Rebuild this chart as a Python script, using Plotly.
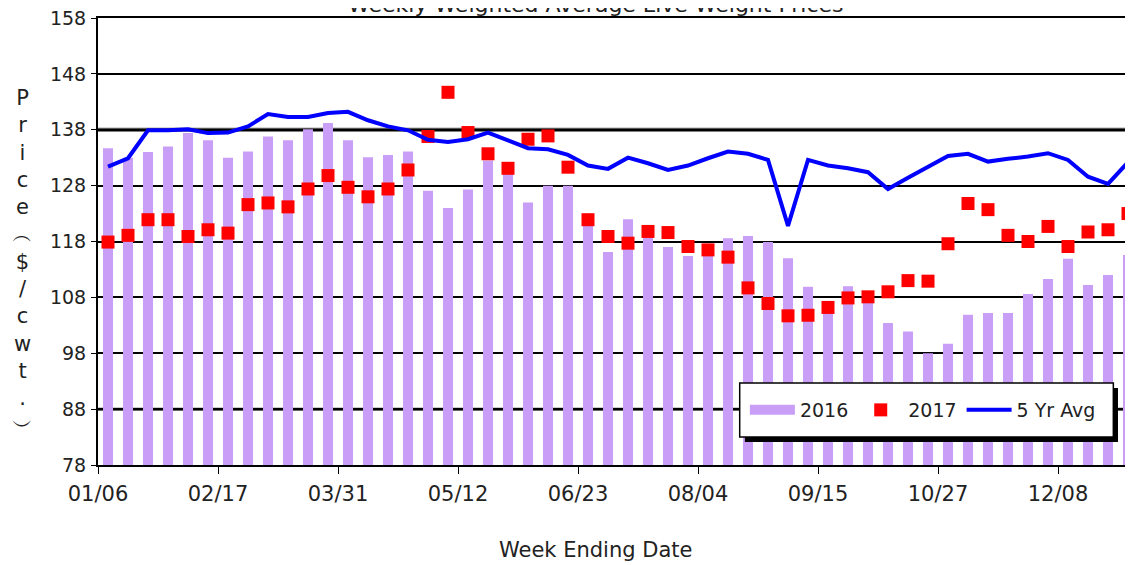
import plotly.graph_objects as go
import pandas as pd

# semanas (fecha de fin de semana) y precios
week_start = "2017-01-06"
n_weeks = 52
tick_labels = ["01/06", "02/17", "03/31", "05/12", "06/23", "08/04", "09/15", "10/27", "12/08"]

prices_2016 = [134.7, 133.0, 134.0, 135.0, 137.4, 136.1, 133.0, 134.1, 136.8, 136.1,
               138.1, 139.2, 136.1, 133.1, 133.5, 134.1, 127.1, 124.0, 127.3, 132.5,
               130.5, 125.0, 128.0, 128.0, 121.0, 116.1, 122.0, 120.0, 117.0, 115.4,
               116.5, 118.6, 119.0, 117.9, 115.0, 109.9, 106.0, 110.0, 107.6, 103.4,
               101.9, 98.0, 99.7, 104.9, 105.2, 105.2, 108.6, 111.3, 114.9, 110.2,
               112.0, 115.6]

prices_2017 = [117.9, 119.1, 121.9, 121.9, 118.9, 120.1, 119.5, 124.6, 124.9, 124.2,
               127.4, 129.8, 127.7, 126.0, 127.4, 130.8, 136.8, 144.7, 137.5, 133.7,
               131.1, 136.3, 136.9, 131.3, 121.9, 118.9, 117.7, 119.8, 119.6, 117.1,
               116.5, 115.2, 109.7, 106.9, 104.7, 104.8, 106.2, 107.9, 108.1, 109.0,
               111.0, 110.9, 117.6, 124.8, 123.7, 119.1, 118.0, 120.7, 117.1, 119.7,
               120.1, 123.0]

avg_5yr = [131.4, 132.9, 137.9, 137.9, 138.1, 137.4, 137.5, 138.6, 140.8, 140.3,
           140.3, 141.0, 141.2, 139.7, 138.6, 137.9, 136.2, 135.8, 136.3, 137.5,
           136.1, 134.7, 134.5, 133.5, 131.6, 131.0, 133.0, 132.0, 130.8, 131.6,
           132.9, 134.1, 133.7, 132.6, 120.8, 132.6, 131.6, 131.1, 130.4, 127.4,
           129.4, 131.4, 133.3, 133.7, 132.3, 132.8, 133.2, 133.8, 132.6, 129.6,
           128.3, 132.2]

weeks = pd.date_range(week_start, periods=n_weeks, freq="7D")
tick_dates = pd.date_range(week_start, periods=len(tick_labels), freq="42D")
WEEK_MS = 7 * 24 * 3600 * 1000

font_name = "DejaVu Sans"
lavender = "#C99EF6"
period = dict(xperiod=WEEK_MS, xperiod0=week_start, xperiodalignment="middle")

fig = go.Figure()

fig.add_trace(go.Bar(
    x=weeks, y=prices_2016, name="2016", **period,
    marker=dict(color=lavender, line=dict(width=0)),
    width=0.5 * WEEK_MS, showlegend=False
))
# entrada de leyenda para 2016 (barra ancha)
fig.add_trace(go.Scatter(
    x=[None], y=[None], mode="lines", name="2016",
    line=dict(color=lavender, width=10)
))
fig.add_trace(go.Scatter(
    x=weeks, y=prices_2017, name="2017", mode="markers", **period,
    marker=dict(symbol="square", size=13, color="#FF0000")
))
fig.add_trace(go.Scatter(
    x=weeks, y=avg_5yr, name="5 Yr Avg", mode="lines", **period,
    line=dict(color="#0000FF", width=4)
))

x_start = weeks[0]
x_end = weeks[0] + pd.Timedelta(days=7 * 51.75)

shapes = [
    dict(type="line", xref="paper", yref="y", x0=0, x1=1, y0=138, y1=138,
         line=dict(color="#555555", width=4), layer="below"),
    dict(type="line", xref="paper", yref="y", x0=0, x1=1, y0=88, y1=88,
         line=dict(color="#333333", width=3), layer="below"),
    # sombra y caja de la leyenda
    dict(type="rect", xref="paper", yref="paper", x0=0.625, x1=0.9855, y0=0.0515, y1=0.1723,
         fillcolor="black", line=dict(width=0), layer="above"),
    dict(type="rect", xref="paper", yref="paper", x0=0.620, x1=0.981, y0=0.0626, y1=0.1834,
         fillcolor="white", line=dict(color="black", width=1.5), layer="above"),
]

# la página deja 8px de margen al body, así que la figura es algo más pequeña
fig.update_layout(
    width=1125, height=557,
    margin=dict(l=90, r=0, t=10, b=100),
    paper_bgcolor="white", plot_bgcolor="white",
    font=dict(family=font_name, size=19, color="#222222"),
    shapes=shapes,
    legend=dict(orientation="h", x=0.625, y=0.123, xanchor="left", yanchor="middle",
                bgcolor="rgba(0,0,0,0)", font=dict(size=19, color="#222222"),
                itemwidth=45, tracegroupgap=0),
    annotations=[
        dict(text="Weekly Weighted Average Live Weight Prices", xref="paper", yref="paper",
             x=0.481, y=1.03, xanchor="center", yanchor="middle", showarrow=False,
             font=dict(size=22, color="#222222")),
        dict(text="Week Ending Date", xref="paper", yref="paper",
             x=0.481, y=-0.19, xanchor="center", yanchor="middle", showarrow=False,
             font=dict(size=21, color="#222222")),
        dict(text="<br>".join(list("Price") + ["︵", "$", "/", "c", "w", "t", ".", "︶"]),
             xref="paper", yref="paper", x=-0.073, y=0.454, xanchor="center", yanchor="middle",
             showarrow=False, align="center", font=dict(size=21, color="#222222")),
    ],
)

fig.update_xaxes(
    type="date", range=[x_start, x_end],
    tickvals=tick_dates, ticktext=tick_labels,
    tickfont=dict(size=21),
    showgrid=False, showline=True, linecolor="black", linewidth=2, mirror=True,
    ticks="outside", ticklen=7, tickcolor="black", tickwidth=1,
    ticklabelstandoff=2, zeroline=False
)
fig.update_yaxes(
    range=[78, 158], tickvals=list(range(78, 159, 10)),
    showgrid=True, gridcolor="black", gridwidth=1.5,
    showline=True, linecolor="black", linewidth=2,
    ticks="outside", ticklen=5, tickcolor="black",
    ticklabelstandoff=1, ticklabeloverflow="allow", zeroline=False
)

fig.write_html("out.html")
